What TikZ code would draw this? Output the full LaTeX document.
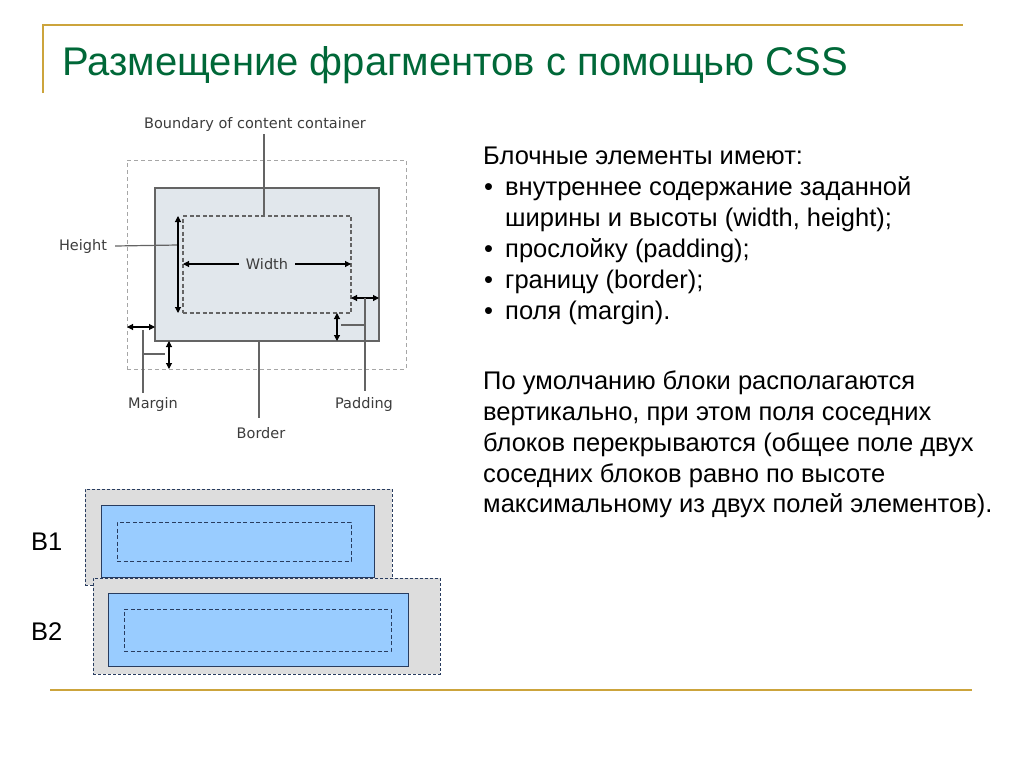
\documentclass[tikz,border=0pt]{standalone}
\usepackage{fontspec}
\setmainfont{Liberation Sans}
\newfontfamily\verd{DejaVu Sans}
\usetikzlibrary{arrows.meta}
\definecolor{gold}{RGB}{204,164,60}
\definecolor{titlegreen}{RGB}{0,104,56}
\definecolor{boxfill}{RGB}{225,231,236}
\definecolor{boxline}{RGB}{100,100,100}
\definecolor{lbl}{RGB}{60,60,60}
\definecolor{bfill}{RGB}{153,204,255}
\definecolor{gfill}{RGB}{221,221,221}
\definecolor{navy}{RGB}{40,60,95}
\tikzset{
  rule/.style={draw=gold, line width=2pt},
  bmlabel/.style={font=\verd\fontsize{14.5}{17}\selectfont, text=lbl, inner sep=0pt},
  lead/.style={draw=boxline, line width=1.2pt},
  dim/.style={draw=black, line width=1.1pt, {Triangle[length=6pt,width=6pt]}-{Triangle[length=6pt,width=6pt]}},
  dimR/.style={draw=black, line width=1.1pt, -{Triangle[length=6pt,width=6pt]}},
  rectnode/.style={anchor=north west, inner sep=0pt, outer sep=0pt},
  bodytext/.style={font=\fontsize{25.5}{31}\selectfont, anchor=base west, inner sep=0pt},
  blabel/.style={font=\fontsize{25.5}{30}\selectfont, anchor=base west, inner sep=0pt},
  gouter/.style={rectnode, fill=gfill, draw=navy, line width=0.9pt, dash pattern=on 3pt off 2pt},
  bluebox/.style={rectnode, fill=bfill, draw=navy, line width=1pt},
  bcontent/.style={rectnode, draw=navy, line width=0.9pt, dash pattern=on 4pt off 2.5pt},
}
\begin{document}
\begin{tikzpicture}[x=1pt,y=-1pt]
\useasboundingbox (0,0) rectangle (1024,768);
% frame rules
\coordinate (rTL) at (43,25);
\coordinate (rTR) at (963,25);
\coordinate (rBL) at (43,93);
\draw[rule] (rBL) -- (rTL) -- (rTR);
\coordinate (fL) at (50,690);
\coordinate (fR) at (972,690);
\draw[rule] (fL) -- (fR);
% title
\node[font=\fontsize{40}{44}\selectfont, text=titlegreen, anchor=base west, inner sep=0pt] (title) at (62,75) {Размещение фрагментов с помощью CSS};

% box model
\node[rectnode, draw=black!35, line width=1pt, dash pattern=on 4pt off 3pt, minimum width=279pt, minimum height=209pt] (margin) at (127,160) {};
\node[rectnode, fill=boxfill, draw=boxline, line width=1.3pt, minimum width=224pt, minimum height=153pt] (border) at (155,188) {};
\node[rectnode, draw=boxline, line width=1.3pt, dash pattern=on 4pt off 2.5pt, minimum width=168pt, minimum height=97pt] (content) at (183,216) {};

\node[bmlabel] (bnd) at (255,124) {Boundary of content container};
\node[bmlabel] (height) at (83,246) {Height};
\node[bmlabel, inner xsep=7pt] (width) at (267,264) {Width};
\node[bmlabel] (marginlbl) at (153,404) {Margin};
\node[bmlabel] (paddinglbl) at (364,404) {Padding};
\node[bmlabel] (borderlbl) at (261,433) {Border};

% boundary leader
\coordinate (bx) at (264,216);
\draw[lead] (bx |- bnd.south) ++(0,3) -- (bx);
% height
\coordinate (hx) at (178,245);
\draw[lead] ([xshift=8pt]height.east) -- (hx);
\draw[dim] (178,216) -- (178,313);
% width
\draw[dimR] (width.west) -- (width.west -| content.west);
\draw[dimR] (width.east) -- (width.east -| content.east);
% padding
\draw[dim] (351,298) -- (border.east |- 0,298);
\draw[dim] (337,313) -- (337,341);
\draw[lead] (365,298) -- (365,391);
\draw[lead] (341,325) -- (365,325);
% margin
\draw[dim] (127,327) -- (155,327);
\draw[dim] (169,341) -- (169,369);
\draw[lead] (143,330) -- (143,393);
\draw[lead] (143,354) -- (165,354);
% border
\draw[lead] (259,341) -- (259,418);

% right text
\node[bodytext] (t1) at (483,164) {Блочные элементы имеют:};
\node[bodytext] (b2) at (484,195) {•};
\node[bodytext] (t2) at (505,195) {внутреннее содержание заданной};
\node[bodytext] (t3) at (505,226) {ширины и высоты (width, height);};
\node[bodytext] (b4) at (484,257) {•};
\node[bodytext] (t4) at (505,257) {прослойку (padding);};
\node[bodytext] (b5) at (484,288) {•};
\node[bodytext] (t5) at (505,288) {границу (border);};
\node[bodytext] (b6) at (484,319) {•};
\node[bodytext] (t6) at (505,319) {поля (margin).};

\node[bodytext] (p1) at (483,389) {По умолчанию блоки располагаются};
\node[bodytext] (p2) at (483,420) {вертикально, при этом поля соседних};
\node[bodytext] (p3) at (483,451) {блоков перекрываются (общее поле двух};
\node[bodytext] (p4) at (483,482) {соседних блоков равно по высоте};
\node[bodytext] (p5) at (483,512) {максимальному из двух полей элементов).};

% B1 / B2 blocks
\node[gouter, minimum width=307pt, minimum height=96pt] (b1m) at (85,489) {};
\node[bluebox, minimum width=273pt, minimum height=72pt] (b1b) at (101,505) {};
\node[bcontent, minimum width=234pt, minimum height=39pt] (b1c) at (117,522) {};
\node[gouter, minimum width=347pt, minimum height=96pt] (b2m) at (93,578) {};
\node[bluebox, minimum width=300pt, minimum height=73pt] (b2b) at (108,593) {};
\node[bcontent, minimum width=267pt, minimum height=42pt] (b2c) at (124,609) {};
\node[blabel] (B1) at (31,550) {B1};
\node[blabel] (B2) at (31,640) {B2};
\end{tikzpicture}
\end{document}
